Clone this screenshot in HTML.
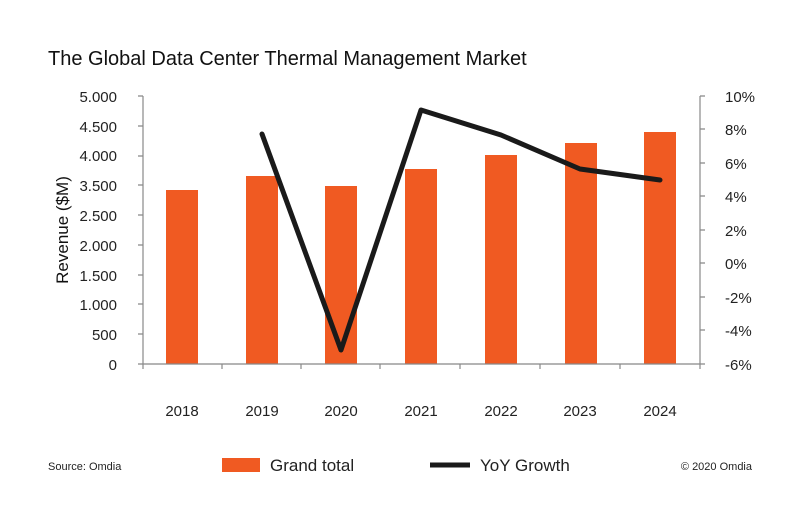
<!DOCTYPE html>
<html><head><style>
body{margin:0;background:#fff;}
svg{display:block;font-family:"Liberation Sans",sans-serif;}
</style></head><body>
<svg width="800" height="519" viewBox="0 0 800 519">
<text x="48" y="65" font-size="20" fill="#111" font-weight="500">The Global Data Center Thermal Management Market</text>
<g fill="#f05a22">
<rect x="166" y="190" width="32" height="174"/>
<rect x="246" y="176" width="32" height="188"/>
<rect x="325" y="186" width="32" height="178"/>
<rect x="405" y="169" width="32" height="195"/>
<rect x="485" y="155" width="32" height="209"/>
<rect x="565" y="143" width="32" height="221"/>
<rect x="644" y="132" width="32" height="232"/>
</g>
<g stroke="#888" stroke-width="1.2" fill="none">
<line x1="143" y1="96" x2="143" y2="364"/>
<line x1="700" y1="96" x2="700" y2="364"/>
<line x1="138" y1="364" x2="705" y2="364"/>
<path d="M138 96h5M138 126h5M138 156h5M138 185h5M138 215h5M138 245h5M138 275h5M138 304h5M138 334h5"/>
<path d="M700 96h5M700 129h5M700 163h5M700 196h5M700 230h5M700 263h5M700 297h5M700 330h5"/>
<path d="M222 364v5M301 364v5M380 364v5M460 364v5M540 364v5M620 364v5M143 364v5M700 364v5"/>
</g>
<polyline points="262,134 341,350 421,110 501,135 580,169 660,180" fill="none" stroke="#1a1a1a" stroke-width="5" stroke-linejoin="round" stroke-linecap="round"/>
<g font-size="15" fill="#222" text-anchor="end">
<text x="117" y="102">5.000</text><text x="117" y="132">4.500</text><text x="117" y="161">4.000</text><text x="117" y="191">3.500</text><text x="117" y="221">2.500</text><text x="117" y="251">2.000</text><text x="117" y="281">1.500</text><text x="117" y="310">1.000</text><text x="117" y="340">500</text><text x="117" y="370">0</text>
</g>
<g font-size="15" fill="#222">
<text x="725" y="102">10%</text><text x="725" y="135">8%</text><text x="725" y="169">6%</text><text x="725" y="202">4%</text><text x="725" y="236">2%</text><text x="725" y="269">0%</text><text x="725" y="303">-2%</text><text x="725" y="336">-4%</text><text x="725" y="370">-6%</text>
</g>
<text transform="translate(68,230) rotate(-90)" font-size="17" fill="#111" text-anchor="middle">Revenue ($M)</text>
<g font-size="15" fill="#222" text-anchor="middle">
<text x="182" y="416">2018</text><text x="262" y="416">2019</text><text x="341" y="416">2020</text><text x="421" y="416">2021</text><text x="501" y="416">2022</text><text x="580" y="416">2023</text><text x="660" y="416">2024</text>
</g>
<text x="48" y="470" font-size="11" fill="#222">Source: Omdia</text>
<rect x="222" y="458" width="38" height="14" fill="#f05a22"/>
<text x="270" y="471" font-size="17" fill="#222">Grand total</text>
<line x1="430" y1="465" x2="470" y2="465" stroke="#1a1a1a" stroke-width="5"/>
<text x="480" y="471" font-size="17" fill="#222">YoY Growth</text>
<text x="752" y="470" font-size="11" fill="#222" text-anchor="end">© 2020 Omdia</text>
</svg>
</body></html>
